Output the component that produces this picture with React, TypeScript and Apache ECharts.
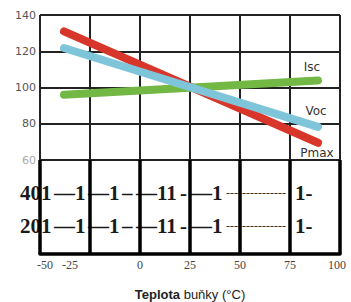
import React, { useEffect, useRef } from "react";
import * as echarts from "echarts";

// Top chart: relative values (%) vs cell temperature
const xStartEnd = [-38, 89];
const pmax = [131, 69.5];
const voc = [121.8, 78.3];
const isc = [96, 103.9];
const seriesNames = ["Pmax", "Voc", "Isc"];

const xTicks = [-50, -25, 0, 25, 50, 75, 100];
const yTicks = [60, 80, 100, 120, 140];

// garbled text rows in the lower panel
const rowPrefixes = ["401", "201"];
const rowPieces = ["—1", "—1", "–", "—11", "-", "––1", "---------------", "1-"];
const axisTitleBold = "Teplota";
const axisTitleRest = " buňky (°C)";

export default function App() {
  const ref = useRef<HTMLDivElement>(null);
  useEffect(() => {
    document.body.style.margin = "0";
    if (!ref.current) return;
    const chart = echarts.init(ref.current, null, { renderer: "svg" });

    const pieceX = [20, 54, 88, 122, 136, 180, 191, 226, 295];
    const rowY = [193, 226];
    const graphics: any[] = [];
    rowPrefixes.forEach((p, r) => {
      const pieces = [p, ...rowPieces];
      pieces.forEach((t, i) => {
        const dotted = i === 7;
        graphics.push({
          type: "text",
          x: pieceX[i],
          y: rowY[r],
          z: 1,
          style: {
            text: t,
            fontFamily: "Liberation Serif, Times New Roman, serif",
            fontWeight: dotted ? "normal" : "bold",
            fontSize: dotted ? 12 : 21,
            fill: dotted ? "#333" : "#1a1a1a",
            verticalAlign: "middle",
            align: "left",
          },
        });
      });
    });

    const lineStyleBase = { width: 8, cap: "round" };
    const endLabel = (name: string, offset: number[]) => ({
      show: true,
      formatter: name,
      distance: 0,
      align: "center",
      verticalAlign: "middle",
      offset,
      fontFamily: "DejaVu Sans, Arial, sans-serif",
      fontSize: 12,
      color: "#333",
    });
    const pts = (ys: number[]) => xStartEnd.map((x, i) => [x, ys[i]]);

    chart.setOption({
      animation: false,
      backgroundColor: "#fff",
      grid: [
        { left: 40, top: 15, width: 300, height: 145 },
        { left: 40, top: 160, width: 300, height: 102 },
      ],
      xAxis: [
        {
          type: "value",
          gridIndex: 0,
          min: xTicks[0],
          max: xTicks[xTicks.length - 1],
          interval: 25,
          axisLabel: { show: false },
          axisTick: { show: false },
          axisLine: { show: true, lineStyle: { color: "#222", width: 2 } },
          splitLine: { show: true, lineStyle: { color: "#222", width: 2 } },
        },
        {
          type: "value",
          gridIndex: 1,
          z: 5,
          min: xTicks[0],
          max: xTicks[xTicks.length - 1],
          interval: 25,
          axisTick: { show: false },
          axisLine: { show: true, lineStyle: { color: "#000", width: 3.5 } },
          splitLine: { show: true, lineStyle: { color: "#000", width: 3.5 } },
          axisLabel: {
            show: true,
            margin: 5,
            color: "#444",
            fontFamily: "Liberation Serif, Times New Roman, serif",
            fontSize: 12,
            formatter: (v: number) => {
              if (v === -50) return "{l|-50}";
              if (v === -25) return "{m|-25}";
              if (v === 100) return "{r|100}";
              return String(v);
            },
            rich: {
              l: { padding: [0, 0, 0, 10], fontFamily: "Liberation Serif, serif", fontSize: 12, color: "#444" },
              m: { padding: [0, 40, 0, 0], fontFamily: "Liberation Serif, serif", fontSize: 12, color: "#444" },
              r: { padding: [0, 6, 0, 0], fontFamily: "Liberation Serif, serif", fontSize: 12, color: "#444" },
            },
          },
          name: `{b|${axisTitleBold}}{n|${axisTitleRest}}`,
          nameLocation: "middle",
          nameGap: 34,
          nameTextStyle: {
            rich: {
              b: { fontFamily: "Liberation Sans, Arial, sans-serif", fontSize: 13, fontWeight: "bold", color: "#222" },
              n: { fontFamily: "Liberation Sans, Arial, sans-serif", fontSize: 13, color: "#222" },
            },
          },
        },
      ],
      yAxis: [
        {
          type: "value",
          gridIndex: 0,
          min: yTicks[0],
          max: yTicks[yTicks.length - 1],
          interval: 20,
          axisTick: { show: false },
          axisLine: { show: true, lineStyle: { color: "#222", width: 2 } },
          splitLine: { show: true, lineStyle: { color: "#222", width: 2 } },
          axisLabel: {
            margin: 4,
            fontFamily: "DejaVu Sans, Arial, sans-serif",
            fontSize: 11,
            color: "#555",
            formatter: (v: number) => (v === 60 ? "{f|60}" : String(v)),
            rich: { f: { color: "#aaa", fontFamily: "DejaVu Sans, Arial, sans-serif", fontSize: 11 } },
          },
        },
        { type: "value", gridIndex: 1, show: false, min: 0, max: 1, splitLine: { show: false } },
      ],
      graphic: graphics,
      series: [
        {
          name: seriesNames[2],
          type: "line",
          xAxisIndex: 0,
          yAxisIndex: 0,
          symbol: "none",
          data: pts(isc),
          lineStyle: { ...lineStyleBase, color: "#73b744" },
          itemStyle: { color: "#73b744" },
          endLabel: endLabel(seriesNames[2], [-6, -13]),
          z: 3,
        },
        {
          name: seriesNames[1],
          type: "line",
          xAxisIndex: 0,
          yAxisIndex: 0,
          symbol: "none",
          data: pts(voc),
          lineStyle: { ...lineStyleBase, color: "#7fc5d9" },
          itemStyle: { color: "#7fc5d9" },
          endLabel: endLabel(seriesNames[1], [-2, -16]),
          z: 4,
        },
        {
          name: seriesNames[0],
          type: "line",
          xAxisIndex: 0,
          yAxisIndex: 0,
          symbol: "none",
          data: pts(pmax),
          lineStyle: { ...lineStyleBase, color: "#d8362a" },
          itemStyle: { color: "#d8362a" },
          endLabel: endLabel(seriesNames[0], [-1, 10]),
          z: 2,
        },
      ],
    });
    return () => chart.dispose();
  }, []);
  return <div ref={ref} style={{ width: 351, height: 302 }} />;
}
